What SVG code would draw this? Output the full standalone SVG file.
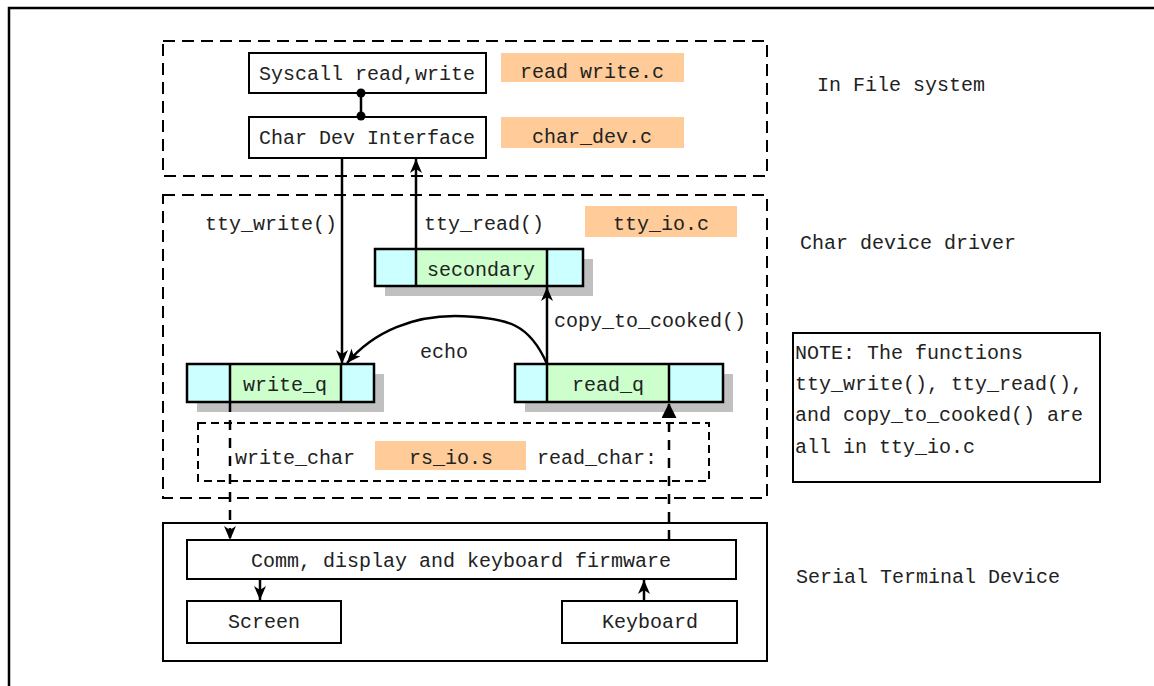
<svg xmlns="http://www.w3.org/2000/svg" width="1154" height="686" viewBox="0 0 1154 686">
<style>
text{font-family:"Liberation Mono","DejaVu Sans Mono",monospace;font-size:20px;fill:#222}
.c{text-anchor:middle}
.box{fill:#fff;stroke:#000;stroke-width:2}
.dash{fill:none;stroke:#000;stroke-width:2;stroke-dasharray:12 7}
.dash2{fill:none;stroke:#000;stroke-width:2;stroke-dasharray:8 5}
.org{fill:#ffcc99}
.cy{fill:#ccffff}
.gr{fill:#ccffcc}
.sh{fill:#c0c0c0}
.qo{fill:none;stroke:#000;stroke-width:2.5}
.ln{fill:none;stroke:#000;stroke-width:2.5}
.dl{fill:none;stroke:#000;stroke-width:2.5;stroke-dasharray:10 8}
</style>
<defs>
<marker id="arr" viewBox="0 0 14 12" refX="14" refY="6" markerWidth="14" markerHeight="12" orient="auto" markerUnits="userSpaceOnUse"><path d="M0,0 L14,6 L0,12 L4,6 z" fill="#000"/></marker>
<marker id="tri" viewBox="0 0 15 15" refX="15" refY="7.5" markerWidth="15" markerHeight="15" orient="auto" markerUnits="userSpaceOnUse"><path d="M0,0 L15,7.5 L0,15 z" fill="#000"/></marker>
</defs>
<rect x="9" y="8" width="1170" height="700" fill="#fff" stroke="#000" stroke-width="2.5"/>

<g id="fs-region">
<rect class="dash" x="163" y="41" width="604" height="135"/>
<text x="817" y="91">In File system</text>
</g>
<g id="driver-region">
<rect class="dash" x="163" y="195" width="604" height="303"/>
<text x="800" y="249">Char device driver</text>
</g>
<g id="terminal-region">
<rect class="box" x="163" y="523" width="604" height="138"/>
<text x="796" y="583">Serial Terminal Device</text>
</g>

<g id="syscall">
<rect class="box" x="249" y="53" width="237" height="40"/>
<text class="c" x="367" y="80">Syscall read,write</text>
</g>
<g id="readwrite-c">
<rect class="org" x="501" y="53" width="183" height="29"/>
<text class="c" x="592" y="78">read write.c</text>
</g>
<g id="chardev">
<rect class="box" x="249" y="117" width="237" height="41"/>
<text class="c" x="367" y="144">Char Dev Interface</text>
</g>
<g id="chardev-c">
<rect class="org" x="501" y="117" width="183" height="31"/>
<text class="c" x="592" y="143">char_dev.c</text>
</g>
<g id="ttyio-c">
<rect class="org" x="585" y="206" width="152" height="31"/>
<text class="c" x="661" y="230">tty_io.c</text>
</g>

<g id="secondary">
<rect class="sh" x="385" y="259" width="208" height="37"/>
<rect class="cy" x="375" y="249" width="41" height="37"/>
<rect class="gr" x="416" y="249" width="131" height="37"/>
<rect class="cy" x="547" y="249" width="36" height="37"/>
<rect class="qo" x="375" y="249" width="208" height="37"/>
<line class="qo" x1="416" y1="249" x2="416" y2="286"/>
<line class="qo" x1="547" y1="249" x2="547" y2="286"/>
<text class="c" x="481" y="276">secondary</text>
</g>
<g id="write_q">
<rect class="sh" x="197" y="374" width="187" height="38"/>
<rect class="cy" x="187" y="364" width="43" height="38"/>
<rect class="gr" x="230" y="364" width="111" height="38"/>
<rect class="cy" x="341" y="364" width="33" height="38"/>
<rect class="qo" x="187" y="364" width="187" height="38"/>
<line class="qo" x1="230" y1="364" x2="230" y2="402"/>
<line class="qo" x1="341" y1="364" x2="341" y2="402"/>
<text class="c" x="285" y="391">write_q</text>
</g>
<g id="read_q">
<rect class="sh" x="525" y="374" width="208" height="38"/>
<rect class="cy" x="515" y="364" width="32" height="38"/>
<rect class="gr" x="547" y="364" width="122" height="38"/>
<rect class="cy" x="669" y="364" width="54" height="38"/>
<rect class="qo" x="515" y="364" width="208" height="38"/>
<line class="qo" x1="547" y1="364" x2="547" y2="402"/>
<line class="qo" x1="669" y1="364" x2="669" y2="402"/>
<text class="c" x="608" y="391">read_q</text>
</g>

<g id="rsio">
<rect class="dash2" x="198" y="423" width="511" height="58"/>
<rect class="org" x="375" y="441" width="151" height="29"/>
<text class="c" x="451" y="464">rs_io.s</text>
<text x="235" y="464">write_char</text>
<text x="537" y="464">read_char:</text>
</g>

<g id="firmware">
<rect class="box" x="187" y="540" width="549" height="39"/>
<text class="c" x="461" y="567">Comm, display and keyboard firmware</text>
</g>
<g id="screen">
<rect class="box" x="187" y="601" width="154" height="42"/>
<text class="c" x="264" y="628">Screen</text>
</g>
<g id="keyboard">
<rect class="box" x="562" y="601" width="175" height="42"/>
<text class="c" x="650" y="628">Keyboard</text>
</g>

<g id="note">
<rect class="box" x="793" y="333" width="307" height="149"/>
<text x="795" y="359">NOTE: The functions</text>
<text x="795" y="390">tty_write(), tty_read(),</text>
<text x="795" y="421">and copy_to_cooked() are</text>
<text x="795" y="453">all in tty_io.c</text>
</g>

<g id="connectors">
<line class="ln" x1="361" y1="93" x2="361" y2="116"/>
<circle cx="361" cy="93" r="4.5" fill="#000"/>
<circle cx="361" cy="116" r="4.5" fill="#000"/>
<line class="ln" x1="342" y1="158" x2="342" y2="364" marker-end="url(#arr)"/>
<line class="ln" x1="416" y1="249" x2="416" y2="159" marker-end="url(#arr)"/>
<line class="ln" x1="547" y1="364" x2="547" y2="287" marker-end="url(#arr)"/>
<path class="ln" d="M547,364 C530,325 510,317 455,316 C415,316 375,330 347,363" marker-end="url(#arr)"/>
<line class="dl" x1="230" y1="402" x2="230" y2="540" marker-end="url(#arr)"/>
<line class="dl" x1="669" y1="540" x2="669" y2="403" marker-end="url(#tri)"/>
<line class="ln" x1="260" y1="579" x2="260" y2="600" marker-end="url(#arr)"/>
<line class="ln" x1="644" y1="601" x2="644" y2="580" marker-end="url(#arr)"/>
<text x="205" y="230">tty_write()</text>
<text x="424" y="230">tty_read()</text>
<text x="554" y="327">copy_to_cooked()</text>
<text x="420" y="358">echo</text>
</g>
</svg>
